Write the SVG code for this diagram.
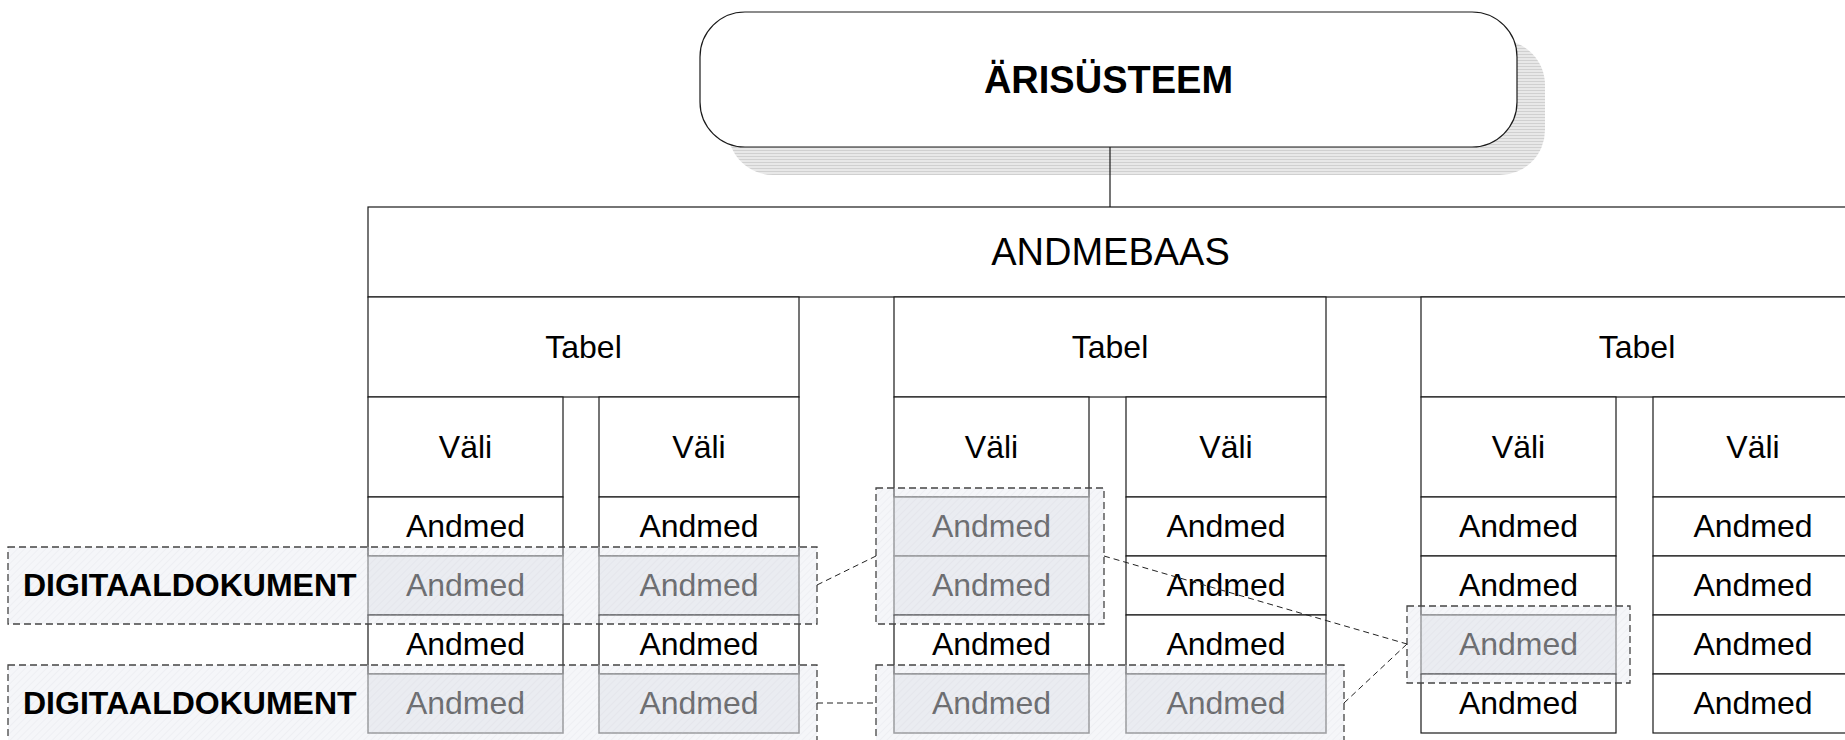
<svg xmlns="http://www.w3.org/2000/svg" width="1845" height="740" viewBox="0 0 1845 740">
<defs>
<pattern id="shadowHatch" patternUnits="userSpaceOnUse" width="4" height="3">
<rect width="4" height="3" fill="#e8e8e8"/>
<line x1="0" y1="0.5" x2="4" y2="0.5" stroke="#d0d0d0" stroke-width="1"/>
</pattern>
<pattern id="docHatch" patternUnits="userSpaceOnUse" width="5" height="5" patternTransform="rotate(45)">
<rect width="5" height="5" fill="#dfe3ec" fill-opacity="0.3"/>
<line x1="0" y1="0" x2="0" y2="5" stroke="#c5c9d4" stroke-opacity="0.3" stroke-width="1"/>
</pattern>
</defs>
<style>
.box{fill:#ffffff;stroke:#1a1a1a;stroke-width:1.2}
.hl{fill:#eff0f3;stroke:#7c7c7c;stroke-width:1.5}
.t{font-family:"Liberation Sans",Arial,sans-serif;font-size:32px;fill:#000;text-anchor:middle}
.tg{font-family:"Liberation Sans",Arial,sans-serif;font-size:32px;fill:#3a3a3a;text-anchor:middle}
.big{font-family:"Liberation Sans",Arial,sans-serif;font-size:38px;fill:#000;text-anchor:middle}
.bold{font-weight:bold}
.doc{fill:url(#docHatch);stroke:#444;stroke-width:1.3;stroke-dasharray:7 4}
.dl{font-family:"Liberation Sans",Arial,sans-serif;font-size:32px;font-weight:bold;fill:#000}
.conn{fill:none;stroke:#222;stroke-width:1;stroke-dasharray:6 4}
.solid{fill:none;stroke:#1a1a1a;stroke-width:1.2}
</style>
<rect width="1845" height="740" fill="#ffffff"/>

<g id="arisusteem">
<rect x="728" y="40" width="817" height="135" rx="45" ry="45" fill="url(#shadowHatch)"/>
<rect x="700" y="12" width="817" height="135" rx="45" ry="45" class="box"/>
<text x="1108.5" y="93" class="big bold">ÄRISÜSTEEM</text>
</g>

<g id="connectors">
<line x1="1110" y1="147" x2="1110" y2="207" class="solid"/>
</g>

<g id="andmebaas">
<rect x="368" y="207" width="1485" height="90" class="box"/>
<text x="1110.5" y="265" class="big">ANDMEBAAS</text>
</g>

<g id="tabel1">
<rect x="368" y="297" width="431" height="100" class="box"/>
<text x="583.5" y="358" class="t">Tabel</text>
<g id="t1-vali1">
<rect x="368" y="397" width="195" height="100" class="box"/>
<text x="465.5" y="458" class="t">Väli</text>
<rect x="368" y="497" width="195" height="59" class="box"/>
<text x="465.5" y="536.5" class="t">Andmed</text>
<rect x="368" y="556" width="195" height="59" class="hl"/>
<text x="465.5" y="595.5" class="tg">Andmed</text>
<rect x="368" y="615" width="195" height="59" class="box"/>
<text x="465.5" y="654.5" class="t">Andmed</text>
<rect x="368" y="674" width="195" height="59" class="hl"/>
<text x="465.5" y="713.5" class="tg">Andmed</text>
</g>
<g id="t1-vali2">
<rect x="599" y="397" width="200" height="100" class="box"/>
<text x="699" y="458" class="t">Väli</text>
<rect x="599" y="497" width="200" height="59" class="box"/>
<text x="699" y="536.5" class="t">Andmed</text>
<rect x="599" y="556" width="200" height="59" class="hl"/>
<text x="699" y="595.5" class="tg">Andmed</text>
<rect x="599" y="615" width="200" height="59" class="box"/>
<text x="699" y="654.5" class="t">Andmed</text>
<rect x="599" y="674" width="200" height="59" class="hl"/>
<text x="699" y="713.5" class="tg">Andmed</text>
</g>
</g>

<g id="tabel2">
<rect x="894" y="297" width="432" height="100" class="box"/>
<text x="1110" y="358" class="t">Tabel</text>
<g id="t2-vali1">
<rect x="894" y="397" width="195" height="100" class="box"/>
<text x="991.5" y="458" class="t">Väli</text>
<rect x="894" y="497" width="195" height="59" class="hl"/>
<text x="991.5" y="536.5" class="tg">Andmed</text>
<rect x="894" y="556" width="195" height="59" class="hl"/>
<text x="991.5" y="595.5" class="tg">Andmed</text>
<rect x="894" y="615" width="195" height="59" class="box"/>
<text x="991.5" y="654.5" class="t">Andmed</text>
<rect x="894" y="674" width="195" height="59" class="hl"/>
<text x="991.5" y="713.5" class="tg">Andmed</text>
</g>
<g id="t2-vali2">
<rect x="1126" y="397" width="200" height="100" class="box"/>
<text x="1226" y="458" class="t">Väli</text>
<rect x="1126" y="497" width="200" height="59" class="box"/>
<text x="1226" y="536.5" class="t">Andmed</text>
<rect x="1126" y="556" width="200" height="59" class="box"/>
<text x="1226" y="595.5" class="t">Andmed</text>
<rect x="1126" y="615" width="200" height="59" class="box"/>
<text x="1226" y="654.5" class="t">Andmed</text>
<rect x="1126" y="674" width="200" height="59" class="hl"/>
<text x="1226" y="713.5" class="tg">Andmed</text>
</g>
</g>

<g id="tabel3">
<rect x="1421" y="297" width="432" height="100" class="box"/>
<text x="1637" y="358" class="t">Tabel</text>
<g id="t3-vali1">
<rect x="1421" y="397" width="195" height="100" class="box"/>
<text x="1518.5" y="458" class="t">Väli</text>
<rect x="1421" y="497" width="195" height="59" class="box"/>
<text x="1518.5" y="536.5" class="t">Andmed</text>
<rect x="1421" y="556" width="195" height="59" class="box"/>
<text x="1518.5" y="595.5" class="t">Andmed</text>
<rect x="1421" y="615" width="195" height="59" class="hl"/>
<text x="1518.5" y="654.5" class="tg">Andmed</text>
<rect x="1421" y="674" width="195" height="59" class="box"/>
<text x="1518.5" y="713.5" class="t">Andmed</text>
</g>
<g id="t3-vali2">
<rect x="1653" y="397" width="200" height="100" class="box"/>
<text x="1753" y="458" class="t">Väli</text>
<rect x="1653" y="497" width="200" height="59" class="box"/>
<text x="1753" y="536.5" class="t">Andmed</text>
<rect x="1653" y="556" width="200" height="59" class="box"/>
<text x="1753" y="595.5" class="t">Andmed</text>
<rect x="1653" y="615" width="200" height="59" class="box"/>
<text x="1753" y="654.5" class="t">Andmed</text>
<rect x="1653" y="674" width="200" height="59" class="box"/>
<text x="1753" y="713.5" class="t">Andmed</text>
</g>
</g>

<g id="digitaaldokument1">
<rect x="8" y="547" width="809" height="77" class="doc"/>
<text x="23" y="596" class="dl">DIGITAALDOKUMENT</text>
</g>
<g id="digitaaldokument2">
<rect x="8" y="665" width="809" height="90" class="doc"/>
<text x="23" y="714" class="dl">DIGITAALDOKUMENT</text>
</g>
<g id="group-t2-a">
<rect x="876" y="488" width="228" height="136" class="doc"/>
</g>
<g id="group-t2-b">
<rect x="876" y="665" width="468" height="90" class="doc"/>
</g>
<g id="group-t3">
<rect x="1407" y="606" width="223" height="77" class="doc"/>
</g>

<g id="dashed-connectors">
<line x1="817" y1="585" x2="876" y2="556" class="conn"/>
<line x1="817" y1="703" x2="876" y2="703" class="conn"/>
<line x1="1104" y1="556" x2="1407" y2="644" class="conn"/>
<line x1="1344" y1="703" x2="1407" y2="644" class="conn"/>
</g>
</svg>
